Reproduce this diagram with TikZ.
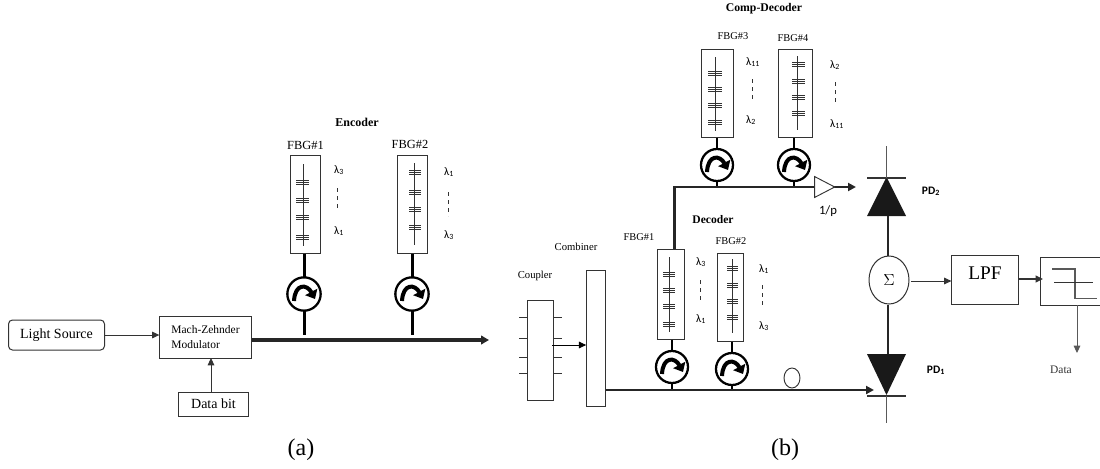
\documentclass[tikz,border=0pt]{standalone}
\usepackage{fontspec}
\setmainfont{Liberation Serif}
\newfontfamily\calibri{Carlito}
\usetikzlibrary{arrows.meta,shapes.geometric}
\definecolor{inkline}{HTML}{333333}
\newcommand{\lam}[1]{{\calibri\fontsize{8.5}{10}\selectfont λ\textsubscript{#1}}}
\tikzset{
  box/.style={draw=inkline,line width=0.75pt,fill=white,inner sep=0pt,minimum width=#1},
  lbl/.style={inner sep=0pt,font=\fontsize{9.3}{11}\selectfont},
  lblsmall/.style={inner sep=0pt,font=\fontsize{7.8}{9}\selectfont},
  lblbold/.style={inner sep=0pt,font=\fontsize{9}{11}\selectfont\bfseries},
  pdlbl/.style={inner sep=0pt,font=\fontsize{8.6}{10}\selectfont\calibri\bfseries},
  circ/.style={circle,draw=black,line width=1.7pt,fill=white,minimum size=#1,inner sep=0pt},
  fiber/.style={draw=black,line width=1.9pt},
  fine/.style={draw=inkline,line width=0.75pt},
  arr/.style={draw=inkline,line width=0.7pt,-{Triangle[length=5.5pt,width=5pt]}},
  fatarr/.style={draw=black!85,line width=2.3pt,-{Triangle[length=6pt,width=6.5pt]}},
  busarr/.style={draw=black!85,line width=1.7pt,-{Triangle[length=6pt,width=6pt]}},
  turnarr/.style={draw=black,line width=3pt,-{Triangle[length=6pt,width=10pt]}},
  diode/.style={fill=black!90,draw=none},
}
% one grating stack, three lines each
\newcommand{\gratings}[3]{
  \foreach \g in {#3}{
    \foreach \d in {-2,0,2}{
      \draw[inkline,line width=0.7pt] (#1,\g+\d) -- (#2,\g+\d);
    }
  }
}
\newcommand{\circulator}[4]{
  \node[circ=#4] (#1) at (#2,#3){};
  \draw[turnarr] ([shift={(-10,7)}]#1.center) .. controls ([shift={(-9,-11)}]#1.center) and ([shift={(3,-10)}]#1.center) .. ([shift={(11,5)}]#1.center);
}
\begin{document}
\begin{tikzpicture}[x=0.75pt,y=-0.75pt]
  \useasboundingbox (0,0) rectangle (1100,468);

  % (a) transmitter
  \node[box=72pt,minimum height=22.5pt,rounded corners=3pt,font=\fontsize{10.5}{12}\selectfont] (Source) at (56.5,335){Light Source};
  \node[box=68.5pt,minimum height=31pt,align=left,font=\fontsize{8.6}{11.2}\selectfont] (Mod) at (205.5,337.5){Mach-Zehnder\\Modulator};
  \node[box=53pt,minimum height=18pt,font=\fontsize{10.5}{12}\selectfont] (Bit) at (213.5,404){Data bit};
  \coordinate (ModOut) at (489,340);
  \coordinate (TapA) at (304.5,335);
  \coordinate (TapB) at (412.5,335);
  \coordinate (BitUp) at (211,392);
  \coordinate (ModIn) at (211,358);
  \draw[arr] (Source.east) -- (Mod.west |- Source.east);
  \draw[arr] (BitUp) -- (ModIn);
  \draw[fatarr] (Mod.east |- ModOut) -- (ModOut);

  \node[lblbold] (Enc) at (357,122){Encoder};
  \node[lbl] (LabA) at (305.5,145){FBG\#1};
  \node[lbl] (LabB) at (410,144){FBG\#2};
  \node[box=22.5pt,minimum height=73.5pt] (FBGa) at (305.5,204){};
  \node[box=22.5pt,minimum height=73.5pt] (FBGb) at (412,204.5){};
  \draw[fine] (303.5,164) -- (303.5,246);
  \draw[fine] (414,163) -- (414,245);
  \gratings{296}{309}{182,200,217,237}
  \gratings{409}{421}{172,192,209,227}
  \node (LamA) at (339,170){\lam{3}};
  \node (LamB) at (339,231){\lam{1}};
  \node (LamC) at (449,172){\lam{1}};
  \node (LamD) at (449,235){\lam{3}};
  \draw[fine,dashed] (337,188) -- (337,212);
  \draw[fine,dashed] (448,192) -- (448,216);
  \draw[fiber] (FBGa.south -| TapA) -- (TapA);
  \draw[fiber] (FBGb.south -| TapB) -- (TapB);
  \circulator{CircA}{304}{294}{25pt}
  \circulator{CircB}{412}{294}{25pt}
  \node[font=\fontsize{18}{20}\selectfont,inner sep=0pt] (CapA) at (301,450){(a)};

  % (b) receiver
  \node[lblsmall,font=\fontsize{8}{9}\selectfont] (LabCoupler) at (535,276){Coupler};
  \node[lblsmall,font=\fontsize{8}{9}\selectfont] (LabComb) at (576,247){Combiner};
  \node[box=19pt,minimum height=75pt] (Coupler) at (540.5,350){};
  \node[box=14pt,minimum height=102pt] (Comb) at (596,338){};
  \foreach \y in {317,338,357,373}{
    \draw[fine] (519,\y) -- (528,\y);
    \draw[fine] (553,\y) -- (562,\y);
  }
  \coordinate (CoupOut) at (552,345);
  \draw[arr,draw=black] (CoupOut) -- (Comb.west |- CoupOut);

  \node[lblbold,font=\fontsize{8.8}{10}\selectfont\bfseries] (CompDec) at (764,9){Comp-Decoder};
  \node[lblbold,font=\fontsize{8.7}{10}\selectfont\bfseries] (Dec) at (713,220){Decoder};
  \node[lblsmall] (LabC) at (639,237){FBG\#1};
  \node[lblsmall] (LabD) at (731,241){FBG\#2};
  \node[lblsmall] (LabE) at (733,36){FBG\#3};
  \node[lblsmall] (LabF) at (793,38){FBG\#4};
  \node[box=20pt,minimum height=67pt] (FBGc) at (671,294.5){};
  \node[box=20pt,minimum height=66pt] (FBGd) at (730.5,297){};
  \node[box=24.5pt,minimum height=66pt] (FBGe) at (717.5,93){};
  \node[box=25.5pt,minimum height=66pt] (FBGf) at (795.5,93.5){};
  \draw[fine] (669.5,257) -- (669.5,332);
  \draw[fine] (732,259) -- (732,333);
  \draw[fine] (715,57) -- (715,131);
  \draw[fine] (797.5,56) -- (797.5,130);
  \gratings{663}{675}{274,290,306,324}
  \gratings{727}{738}{268,285,301,317}
  \gratings{708}{722}{73,89,105,122}
  \gratings{792}{805}{64,81,97,113}
  \node (LamE) at (701,262){\lam{3}};
  \node (LamF) at (701,319){\lam{1}};
  \node (LamG) at (764,269){\lam{1}};
  \node (LamH) at (764,326){\lam{3}};
  \node (LamI) at (753,62){\lam{11}};
  \node (LamJ) at (751,120){\lam{2}};
  \node (LamK) at (835,65){\lam{2}};
  \node (LamL) at (837,124){\lam{11}};
  \draw[fine,dashed] (700,280) -- (700,302);
  \draw[fine,dashed] (762,285) -- (762,308);
  \draw[fine,dashed] (752,79) -- (752,101);
  \draw[fine,dashed] (835.5,82) -- (835.5,104);

  \coordinate (BusIn) at (605.5,390);
  \coordinate (Corner) at (674.5,187);
  \coordinate (TapC) at (672,390);
  \coordinate (TapD) at (732,390);
  \coordinate (TapE) at (717,187);
  \coordinate (TapF) at (794,187);
  \coordinate (UpperEnd) at (856,187);
  \coordinate (LowerEnd) at (874,390);
  \draw[fiber] (FBGc.south -| TapC) -- (TapC);
  \draw[fiber] (FBGd.south -| TapD) -- (TapD);
  \draw[fiber] (FBGe.south -| TapE) -- (TapE);
  \draw[fiber] (FBGf.south -| TapF) -- (TapF);
  \circulator{CircC}{672}{367}{24pt}
  \circulator{CircD}{732}{369}{24pt}
  \circulator{CircE}{717}{165}{24pt}
  \circulator{CircF}{794}{165}{24pt}
  \draw[busarr] (BusIn) -- (LowerEnd);
  \draw[busarr] (FBGc.north -| Corner) -- (Corner) -- (UpperEnd);
  \node[draw=inkline,line width=0.7pt,fill=white,ellipse,minimum width=12pt,minimum height=15pt,inner sep=0pt] (Loop) at (792,378){};
  \node[draw=inkline,line width=0.7pt,fill=white,isosceles triangle,isosceles triangle apex angle=55,minimum height=15pt,inner sep=0pt] (Amp) at (821,187){};
  \node[font=\fontsize{9.5}{11}\selectfont\calibri,inner sep=0pt] (AmpLab) at (828,211){1/p};

  % photodiodes and decision stage
  \node[draw=inkline,line width=0.75pt,fill=white,ellipse,minimum width=30pt,minimum height=36pt,inner sep=0pt,font=\fontsize{13}{14}\selectfont] (Sum) at (889,280){$\Sigma$};
  \fill[diode] (867,216) -- (906,216) -- (886.5,177) -- cycle;
  \fill[diode] (867,354) -- (906,354) -- (886.5,395) -- cycle;
  \coordinate (PDa) at (888,216);
  \coordinate (PDb) at (888,354);
  \coordinate (BarA) at (886.5,178);
  \coordinate (BarB) at (886.5,396);
  \draw[draw=black!85,line width=1.1pt] (Sum.north -| PDa) -- (PDa);
  \draw[draw=black!85,line width=1.1pt] (Sum.south -| PDb) -- (PDb);
  \draw[fine,line width=1pt] (867,178) -- (906,178);
  \draw[fine,line width=1pt] (867,396) -- (906,396);
  \draw[fine,draw=black!65] (BarA) -- (886.5,146);
  \draw[fine,draw=black!65] (BarB) -- (886.5,423);
  \node[pdlbl] (PDtwo) at (931,191){PD\textsubscript{2}};
  \node[pdlbl] (PDone) at (936,370){PD\textsubscript{1}};
  \node[box=50pt,minimum height=36.5pt] (LPF) at (985.25,280.25){};
  \node[inner sep=0pt,font=\fontsize{14.5}{16}\selectfont] (LPFlab) at (985,273){LPF};
  \node[box=44.5pt,minimum height=36pt] (Dec2) at (1070.5,281){};
  \coordinate (SumOut) at (911,281);
  \coordinate (LPFOut) at (1019,279);
  \coordinate (DecIn) at (1043,279);
  \coordinate (DecOut) at (1077,305);
  \coordinate (DataEnd) at (1077,353);
  \draw[arr] (SumOut) -- (LPF.west |- SumOut);
  \draw[arr,line width=1.2pt] (LPFOut) -- (DecIn);
  \draw[arr,draw=black!65] (DecOut) -- (DataEnd);
  \draw[draw=black!65,line width=0.8pt] (1052,269) -- (1075,269) -- (1075,298.5) -- (1097,298.5);
  \draw[fine] (1054,282.5) -- (1093,282.5);
  \node[inner sep=0pt,font=\fontsize{8.6}{10}\selectfont,text=inkline] (DataLab) at (1061,370){Data};
  \node[font=\fontsize{18}{20}\selectfont,inner sep=0pt] (CapB) at (785,450){(b)};
\end{tikzpicture}
\end{document}
